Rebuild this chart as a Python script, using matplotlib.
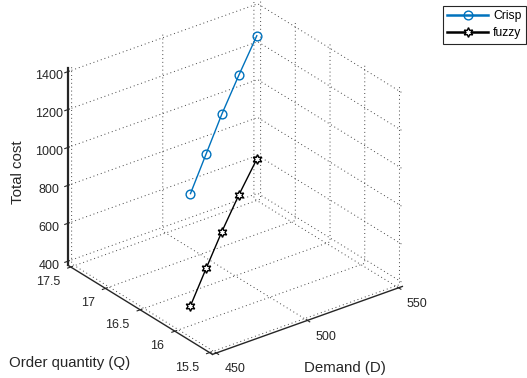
import matplotlib.pyplot as plt
import numpy as np

# data
demand = [450, 475, 500, 525, 550]
order_qty = [15.83, 16.26, 16.69, 17.10, 17.50]
cost_crisp = [1136, 1163, 1190, 1218, 1248]
cost_fuzzy = [544, 559, 570, 586, 597]

d_ticks = [450, 500, 550]
q_ticks = [15.5, 16, 16.5, 17, 17.5]
z_ticks = [400, 600, 800, 1000, 1200, 1400]

plt.rcParams['font.family'] = ['Liberation Sans', 'DejaVu Sans']
plt.rcParams['axes3d.automargin'] = True
plt.rcParams['grid.linestyle'] = (0, (1, 3))
plt.rcParams['grid.linewidth'] = 0.7
plt.rcParams['grid.color'] = '#444444'

fig = plt.figure(figsize=(5.27, 3.78), dpi=100)
ax = fig.add_axes([-0.0636, 0.018, 1, 1], projection='3d', proj_type='ortho')
ax.view_init(elev=28, azim=-127.3)
ax.set_box_aspect((1, 1, 0.937), zoom=1.04)

ax.plot(demand, order_qty, cost_crisp, color='#0072BD', lw=1, marker='o',
        ms=6.3, mfc='none', mec='#0072BD', label='Crisp')
ax.plot(demand, order_qty, cost_fuzzy, color='black', lw=1, marker=(6, 1, 0),
        ms=7, mfc='white', mec='black', label='fuzzy')

ax.set_xlim(450, 550)
ax.set_ylim(15.5, 17.5)
ax.set_zlim(400, 1400)
ax.set_xticks(d_ticks)
ax.set_yticks(q_ticks)
ax.set_zticks(z_ticks)
ax.set_yticklabels(['15.5', '16', '16.5', '17', '17.5'])

for axis in (ax.xaxis, ax.yaxis, ax.zaxis):
    axis.set_pane_color((1, 1, 1, 0))
    axis.pane.set_edgecolor('none')
    axis.line.set_color('#262626')
    axis.line.set_linewidth(1.0)
ax.zaxis.line.set_linewidth(1.6)
ax.tick_params(labelsize=9, colors='#262626', pad=0)
plt.setp(ax.get_yticklabels(), ha='right', va='center')
plt.setp(ax.get_xticklabels(), ha='left', va='center')

fig.text(0.034, 0.545, 'Total cost', rotation=90, fontsize=10.8, color='#262626',
         ha='center', va='center')
fig.text(0.017, 0.041, 'Order quantity (Q)', fontsize=10.8, color='#262626',
         ha='left', va='center')
fig.text(0.655, 0.026, 'Demand (D)', fontsize=10.8, color='#262626',
         ha='center', va='center')

leg = fig.legend(loc='upper left', bbox_to_anchor=(443 / 527, 1 - 5.7 / 378),
                 fontsize=8.7, fancybox=False, edgecolor='#262626', framealpha=1,
                 handlelength=3.4, handletextpad=0.4, borderpad=0.35,
                 labelspacing=0.45, borderaxespad=0)
leg.get_frame().set_linewidth(0.8)
for line in leg.get_lines():
    line.set_linewidth(1.8)

fig.savefig('out.png', dpi=100)
